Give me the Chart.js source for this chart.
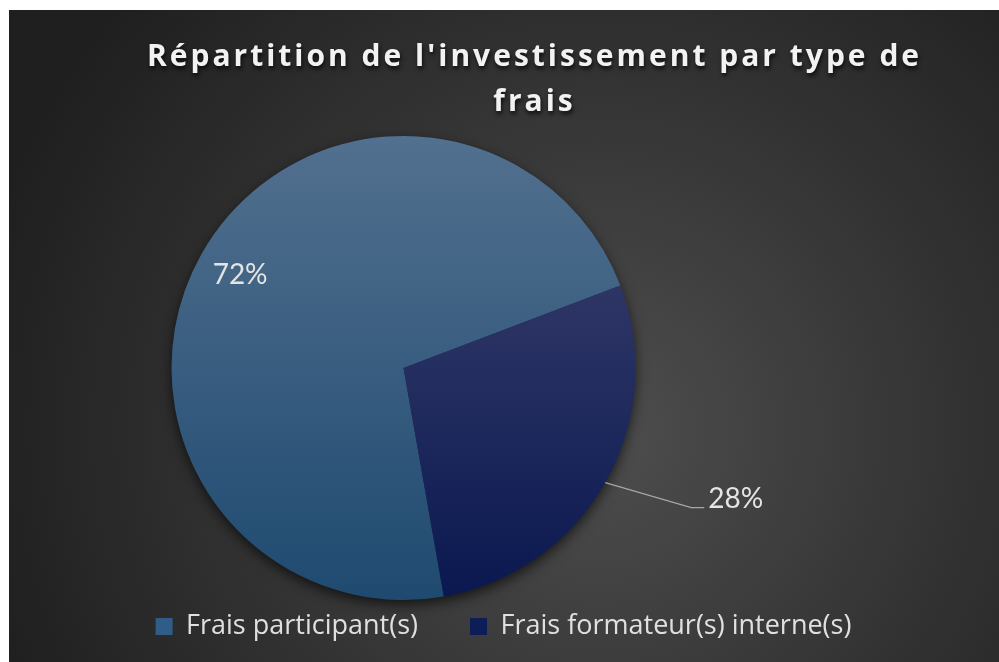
<!DOCTYPE html>
<html>
<head>
<meta charset="utf-8">
<script src="https://cdn.jsdelivr.net/npm/chart.js@4"></script>
<style>
  html, body { margin: 0; padding: 0; background: #ffffff; }
  #wrap { width: 999px; height: 662px; position: relative; }
</style>
</head>
<body>
<div id="wrap"><canvas id="c" width="999" height="662"></canvas></div>
<script>
const categories = ['Frais participant(s)', 'Frais formateur(s) interne(s)'];
const shares = [72, 28];
const percentLabels = ['72%', '28%'];
const titleLines = ["Répartition de l'investissement par type de", 'frais'];

const PIE_RADIUS = 232;
const TOP_COLORS = ['#52708f', '#3f4470'];
const BOTTOM_COLORS = ['#1f4a70', '#0a1850'];
const LEGEND_COLORS = ['#2f5d88', '#0d1d58'];

function sliceFill(c) {
  const chart = c.chart;
  const a = chart.chartArea;
  const i = c.dataIndex;
  if (!a || i === undefined) return BOTTOM_COLORS[i || 0];
  const cy = (a.top + a.bottom) / 2;
  const g = chart.ctx.createLinearGradient(0, cy - PIE_RADIUS, 0, cy + PIE_RADIUS);
  g.addColorStop(0, TOP_COLORS[i]);
  g.addColorStop(1, BOTTOM_COLORS[i]);
  return g;
}

function resetText(ctx) {
  ctx.letterSpacing = '0px';
  ctx.font = '1px serif';
  ctx.font = '10px sans-serif';
}

const bgPlugin = {
  id: 'bgAndText',
  beforeDraw(chart) {
    const ctx = chart.ctx;
    ctx.save();
    ctx.fillStyle = '#ffffff';
    ctx.fillRect(0, 0, chart.width, chart.height);
    const g = ctx.createRadialGradient(600, 430, 0, 600, 430, 640);
    g.addColorStop(0, '#4e4e4e');
    g.addColorStop(0.55, '#333333');
    g.addColorStop(1, '#1f1f1f');
    ctx.fillStyle = g;
    ctx.fillRect(9, 10, 990, 652);
    ctx.restore();
  },
  afterLayout(chart) {
    const t = chart.titleBlock;
    if (!t) return;
    t.left += 62;
    if (!t._spacedDraw) {
      const baseDraw = Object.getPrototypeOf(t).draw;
      t.draw = function(area) {
        const ctx = this.ctx;
        ctx.save();
        ctx.letterSpacing = '3px';
        ctx.font = '2px serif';
        ctx.shadowColor = 'rgba(0,0,0,0.75)';
        ctx.shadowBlur = 4;
        ctx.shadowOffsetY = 3;
        ctx.shadowOffsetX = 1;
        baseDraw.call(this, area);
        ctx.restore();
        resetText(ctx);
      };
      t._spacedDraw = true;
    }
  },
  beforeDatasetsDraw(chart) {
    const ctx = chart.ctx;
    const el = chart.getDatasetMeta(0).data[0];
    if (!el) return;
    ctx.save();
    ctx.shadowColor = 'rgba(0,0,0,0.7)';
    ctx.shadowBlur = 14;
    ctx.shadowOffsetY = 5;
    ctx.fillStyle = '#1a2a40';
    ctx.beginPath();
    ctx.arc(el.x, el.y, el.outerRadius - 1, 0, Math.PI * 2);
    ctx.fill();
    ctx.restore();
  },
  afterDatasetsDraw(chart) {
    const ctx = chart.ctx;
    const arcs = chart.getDatasetMeta(0).data;
    ctx.save();
    resetText(ctx);
    ctx.font = '28px Lato';
    ctx.fillStyle = '#e4e4e4';
    const a0 = arcs[0];
    const m0 = (a0.startAngle + a0.endAngle) / 2;
    const r0 = a0.outerRadius * 0.81;
    ctx.textAlign = 'center';
    ctx.textBaseline = 'middle';
    ctx.fillText(percentLabels[0], a0.x + Math.cos(m0) * r0, a0.y + Math.sin(m0) * r0);
    const a1 = arcs[1];
    const m1 = (a1.startAngle + a1.endAngle) / 2;
    const ox = a1.x + Math.cos(m1) * a1.outerRadius;
    const oy = a1.y + Math.sin(m1) * a1.outerRadius;
    const ex = ox + 86, ey = oy + 25;
    ctx.strokeStyle = '#a6a6a6';
    ctx.lineWidth = 1.3;
    ctx.beginPath();
    ctx.moveTo(ox, oy);
    ctx.lineTo(ex, ey);
    ctx.lineTo(ex + 13, ey);
    ctx.stroke();
    ctx.textAlign = 'left';
    ctx.textBaseline = 'alphabetic';
    ctx.fillText(percentLabels[1], ex + 17, ey);
    ctx.restore();
  }
};

new Chart(document.getElementById('c'), {
  type: 'pie',
  data: {
    labels: categories,
    datasets: [{
      data: shares,
      backgroundColor: sliceFill,
      borderWidth: 0
    }]
  },
  options: {
    responsive: false,
    animation: false,
    devicePixelRatio: 1,
    rotation: 170,
    radius: PIE_RADIUS,
    layout: { padding: { left: 9, right: 1, top: 10, bottom: 12 } },
    plugins: {
      tooltip: { enabled: false },
      title: {
        display: true,
        text: titleLines,
        color: '#f2f2f2',
        font: { family: 'Open Sans', size: 30, weight: 'bold', lineHeight: 1.5 },
        padding: { top: 25, bottom: 50 }
      },
      subtitle: {
        display: true,
        position: 'right',
        fullSize: false,
        text: '',
        font: { size: 10, lineHeight: 1.2 },
        padding: { top: 188, bottom: 0 }
      },
      legend: {
        position: 'bottom',
        labels: {
          color: '#e0e0e0',
          font: { family: 'Open Sans', size: 27 },
          boxWidth: 17,
          boxHeight: 17,
          padding: 52,
          generateLabels(chart) {
            return categories.map((t, i) => ({
              text: t,
              fillStyle: LEGEND_COLORS[i],
              strokeStyle: LEGEND_COLORS[i],
              lineWidth: 0,
              fontColor: '#e0e0e0',
              hidden: false,
              index: i
            }));
          }
        }
      }
    }
  },
  plugins: [bgPlugin]
});
</script>
</body>
</html>
